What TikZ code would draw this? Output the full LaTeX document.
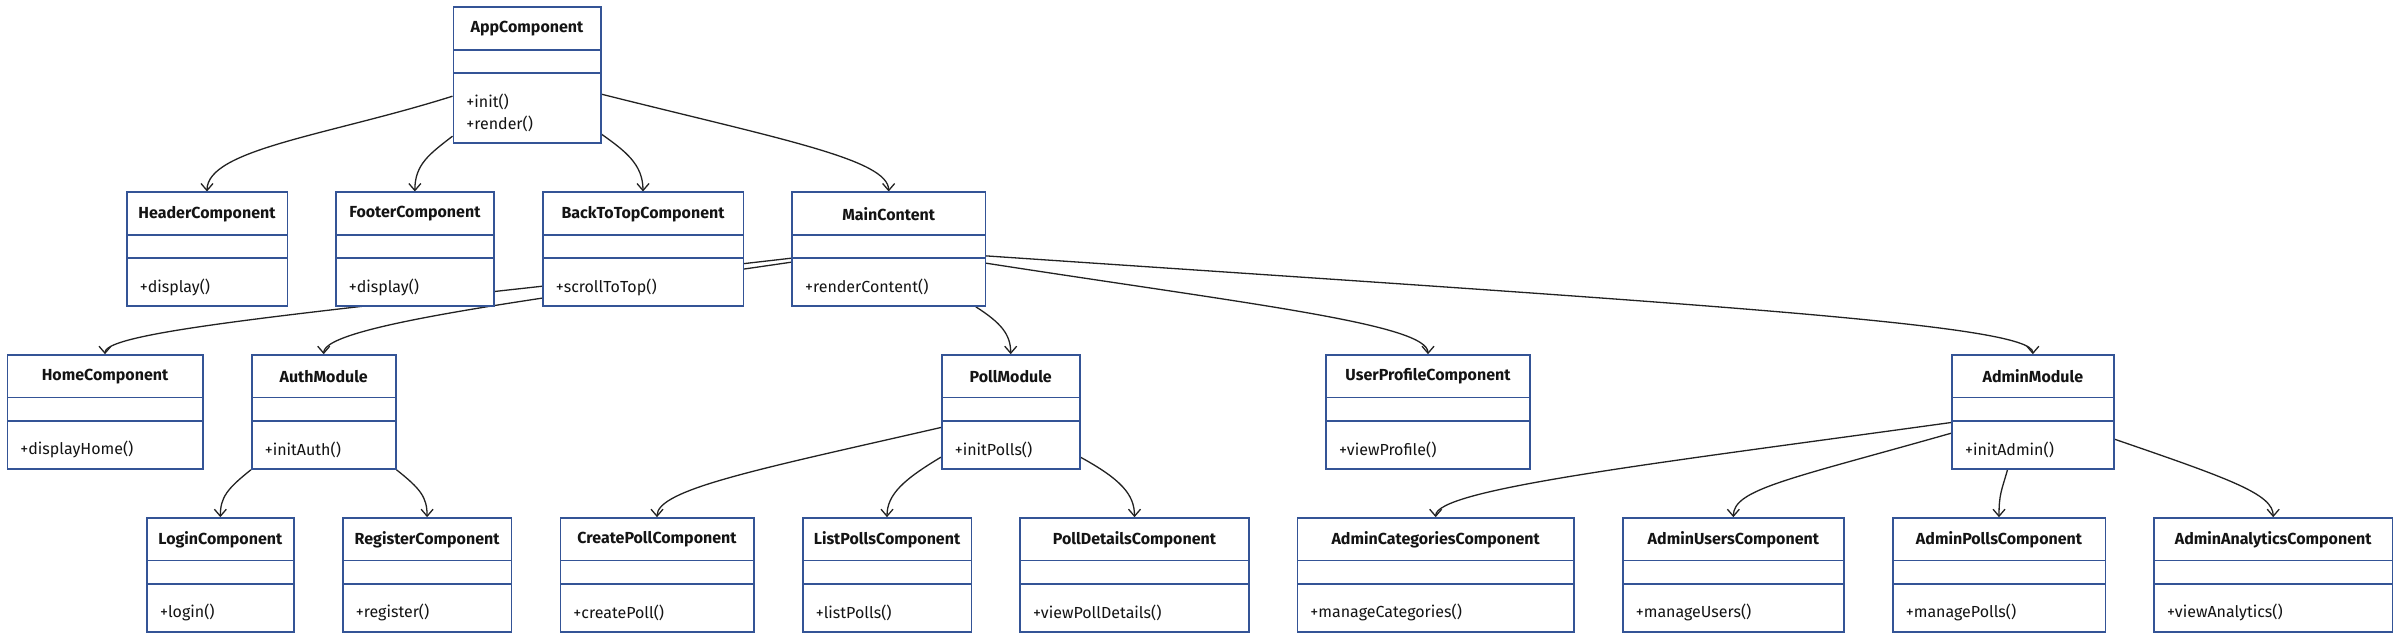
\documentclass[tikz,border=0pt]{standalone}
\usepackage{fontspec}
\setmainfont{Fira Sans}
\usetikzlibrary{arrows.meta,calc,fit,backgrounds}
\definecolor{boxc}{RGB}{52,84,150}
\definecolor{edgec}{RGB}{34,34,34}
\definecolor{txtc}{RGB}{20,20,20}
\tikzset{
  clsbox/.style={draw=boxc, fill=white, line width=0.8pt, inner sep=0pt},
  clsline/.style={draw=boxc, line width=0.8pt},
  clstitle/.style={inner sep=0pt, font=\fontsize{8}{10}\selectfont\bfseries, text=txtc},
  clsmeth/.style={inner sep=0pt, anchor=west, align=left, font=\fontsize{8}{11}\selectfont, text=txtc},
  edge/.style={draw=edgec, line width=0.65pt, -{Straight Barb[length=3.5pt,width=6pt]}}
}
\newcommand{\umlclass}[7]{%
  \coordinate (#1-nw) at (#2,#4);
  \coordinate (#1-se) at (#3,#5);
  \node[clsbox, fit=(#1-nw)(#1-se)] (#1) {};
  \draw[clsline] (#2,{#4+42.5}) -- (#3,{#4+42.5});
  \draw[clsline] (#2,{#4+65.8}) -- (#3,{#4+65.8});
  \node[clstitle] (#1-t) at ({(#2+#3)/2},{#4+21.5}) {#6};
  \node[clsmeth] (#1-m) at ({#2+12.7},{(#4+65.8+#5)/2+5}) {#7};
}
\begin{document}
\begin{tikzpicture}[x=0.5pt,y=-0.5pt]
\useasboundingbox (0,0) rectangle (2400,640);
\umlclass{App}{453.3}{600.7}{7.3}{143.3}{AppComponent}{+init()\\+render()}
\umlclass{Header}{126.7}{287.3}{192.3}{306}{HeaderComponent}{+display()}
\umlclass{Footer}{335.7}{494}{192.3}{306}{FooterComponent}{+display()}
\umlclass{BackToTop}{542.7}{743.3}{192.3}{306}{BackToTopComponent}{+scrollToTop()}
\umlclass{Main}{792}{985.3}{192.3}{306}{MainContent}{+renderContent()}
\umlclass{Home}{7.3}{202.7}{355}{469}{HomeComponent}{+displayHome()}
\umlclass{Auth}{251.7}{395.7}{355}{469}{AuthModule}{+initAuth()}
\umlclass{Poll}{941.7}{1079.7}{355}{469}{PollModule}{+initPolls()}
\umlclass{UserProfile}{1326}{1530}{355}{469}{UserProfileComponent}{+viewProfile()}
\umlclass{Admin}{1952}{2113.7}{355}{469}{AdminModule}{+initAdmin()}
\umlclass{Login}{147}{293.7}{518}{632}{LoginComponent}{+login()}
\umlclass{Register}{342.7}{511.5}{518}{632}{RegisterComponent}{+register()}
\umlclass{CreatePoll}{560.3}{753.7}{518}{632}{CreatePollComponent}{+createPoll()}
\umlclass{ListPolls}{802.7}{971.3}{518}{632}{ListPollsComponent}{+listPolls()}
\umlclass{PollDetails}{1020}{1249}{518}{632}{PollDetailsComponent}{+viewPollDetails()}
\umlclass{AdminCategories}{1297.3}{1574}{518}{632}{AdminCategoriesComponent}{+manageCategories()}
\umlclass{AdminUsers}{1622.7}{1844}{518}{632}{AdminUsersComponent}{+manageUsers()}
\umlclass{AdminPolls}{1892.7}{2105.3}{518}{632}{AdminPollsComponent}{+managePolls()}
\umlclass{AdminAnalytics}{2154}{2392.4}{518}{632}{AdminAnalyticsComponent}{+viewAnalytics()}
\begin{pgfonlayer}{background}
\draw[edge] ($(App.north west)+(0,89.7)$) .. controls +(-123.3,39) and +(0,-42.3) .. (Header.north);
\draw[edge] ($(App.north west)+(0,129.7)$) .. controls +(-23.3,18) and +(0,-27) .. (Footer.north);
\draw[edge] ($(App.north east)+(0,127.7)$) .. controls +(24,17) and +(0,-27) .. (BackToTop.north);
\draw[edge] ($(App.north east)+(0,87.7)$) .. controls +(179.3,45) and +(0,-32) .. (Main.north);
\draw[edge] ($(Main.north west)+(0,66.7)$) .. controls +(-442,51) and +(0,-25) .. (Home.north);
\draw[edge] ($(Main.north west)+(0,70.7)$) .. controls +(-232,34) and +(0,-30) .. (Auth.north);
\draw[edge] ($(Main.south east)+(-10.3,0)$) .. controls +(25,16) and +(0,-20) .. (Poll.north);
\draw[edge] ($(Main.north east)+(0,71.7)$) .. controls +(264.7,41) and +(0,-30) .. (UserProfile.north);
\draw[edge] ($(Main.north east)+(0,64.4)$) .. controls +(714.7,48.3) and +(0,-30) .. (Admin.north);
\draw[edge] (Auth.south west) .. controls +(-23.7,19) and +(0,-20) .. (Login.north);
\draw[edge] (Auth.south east) .. controls +(24,19) and +(0,-20) .. (Register.north);
\draw[edge] ($(Poll.north west)+(0,73.3)$) .. controls +(-181.7,41.7) and +(0,-28) .. (CreatePoll.north);
\draw[edge] ($(Poll.north west)+(0,103)$) .. controls +(-36.7,22) and +(0,-23) .. (ListPolls.north);
\draw[edge] ($(Poll.north east)+(0,103)$) .. controls +(40,22) and +(0,-23) .. (PollDetails.north);
\draw[edge] ($(Admin.north west)+(0,68.3)$) .. controls +(-302,41.7) and +(0,-28) .. (AdminCategories.north);
\draw[edge] ($(Admin.north west)+(0,79)$) .. controls +(-162,46) and +(0,-28) .. (AdminUsers.north);
\draw[edge] ($(Admin.south west)+(56.3,0)$) .. controls +(-6,21) and +(0,-23) .. (AdminPolls.north);
\draw[edge] ($(Admin.north east)+(0,85)$) .. controls +(116.3,40) and +(0,-23) .. (AdminAnalytics.north);
\end{pgfonlayer}
\end{tikzpicture}
\end{document}
